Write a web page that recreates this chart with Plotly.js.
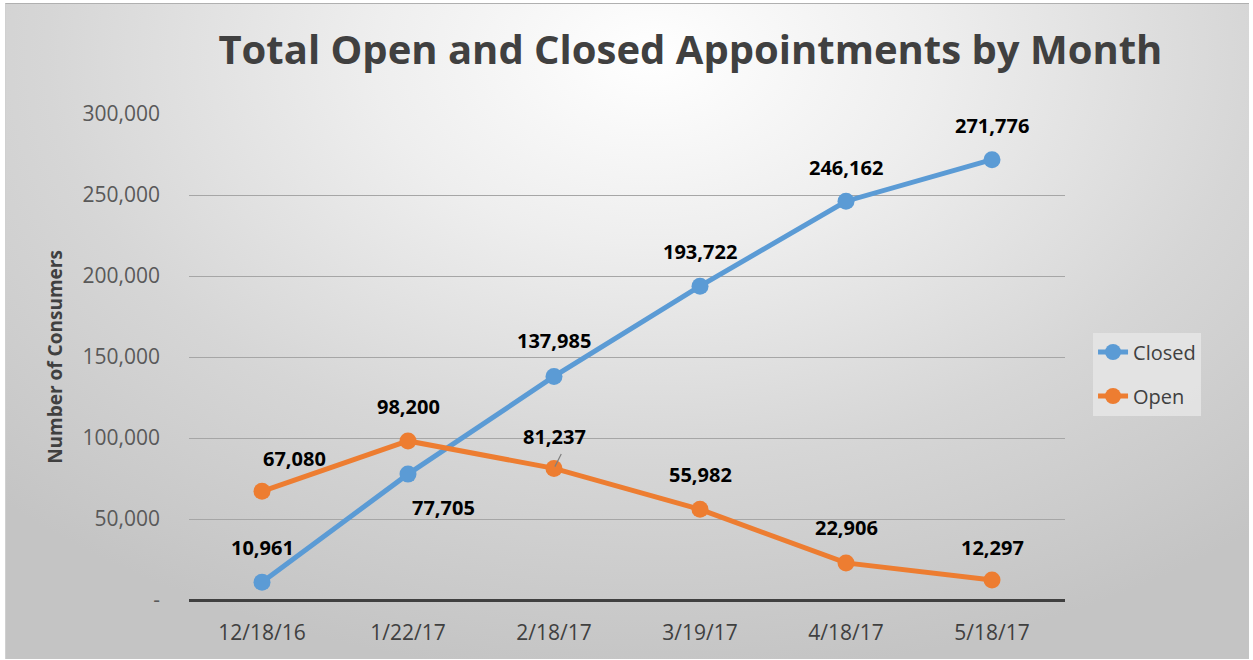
<!DOCTYPE html>
<html>
<head>
<meta charset="utf-8">
<script src="https://cdn.plot.ly/plotly-3.0.1.min.js"></script>
<style>
html,body{margin:0;padding:0;width:1253px;height:660px;overflow:hidden;background:#fff;}
#frame{position:absolute;left:5px;top:3px;width:1243px;height:655px;border-top:1px solid #b0b0b0;border-left:1px solid #d0d0d0;
background:radial-gradient(ellipse 75% 95% at 52% 8%, #ffffff 0%, #eeeeee 30%, #d6d6d6 65%, #c4c4c4 100%);}
#chart{position:absolute;left:0;top:0;width:1253px;height:660px;}
</style>
</head>
<body>
<div id="frame"></div>
<div id="chart"></div>
<script>
const categories = ["12/18/16","1/22/17","2/18/17","3/19/17","4/18/17","5/18/17"];
const closedValues = [10961, 77705, 137985, 193722, 246162, 271776];
const openValues = [67080, 98200, 81237, 55982, 22906, 12297];
const yTickVals = [0, 50000, 100000, 150000, 200000, 250000, 300000];
const yTickText = ["-", "50,000", "100,000", "150,000", "200,000", "250,000", "300,000"];

const fmt = v => v.toLocaleString("en-US");
const FONT = "Open Sans, Noto Sans, sans-serif";

const traces = [
  {x: categories, y: closedValues, name: "Closed", legendgroup: "c", type: "scatter", mode: "lines+markers",
   line: {color: "#5B9BD5", width: 5}, marker: {color: "#5B9BD5", size: 17}},
  {x: categories, y: openValues, name: "Open", legendgroup: "o", type: "scatter", mode: "lines+markers",
   line: {color: "#ED7D31", width: 5}, marker: {color: "#ED7D31", size: 17}}
];

// label offsets (pixels) per point
const closedShift = [[0,35],[35,-33],[0,36],[0,35],[0,34],[0,34]];
const openShift = [[32,33],[0,34],[0,32],[0,35],[0,35],[0,33]];

const annotations = [];
closedValues.forEach((v,i)=>annotations.push({x: categories[i], y: v, text: "<b>"+fmt(v)+"</b>", showarrow:false,
  xshift: closedShift[i][0], yshift: closedShift[i][1], font:{family:FONT, size:20, color:"#000"}}));
openValues.forEach((v,i)=>annotations.push({x: categories[i], y: v, text: "<b>"+fmt(v)+"</b>", showarrow:false,
  xshift: openShift[i][0], yshift: openShift[i][1], font:{family:FONT, size:20, color:"#000"}}));
// leader line for 81,237
annotations.push({x: categories[2], y: openValues[2], text: "", showarrow: true, arrowhead: 0, arrowwidth: 1.2,
  arrowcolor: "#7f7f7f", ax: 8, ay: -16, standoff: 2});

const layout = {
  width: 1253, height: 660,
  paper_bgcolor: "rgba(0,0,0,0)", plot_bgcolor: "rgba(0,0,0,0)",
  margin: {l: 189, r: 188, t: 114, b: 60},
  title: {text: "<b>Total Open and Closed Appointments by Month</b>", x: 0.551, xanchor: "center", y: 0.925, yanchor: "middle",
    font: {family: FONT, size: 40, color: "#404040"}},
  xaxis: {type: "category", range: [-0.5, 5.5], showgrid: false, zeroline: false, showline: false,
    tickfont: {family: FONT, size: 21, color: "#404040"}, ticks: "", ticklen: 0, ticklabelstandoff: 18, fixedrange: true},
  yaxis: {range: [0, 300000], tickvals: yTickVals, ticktext: yTickText, showgrid: true, gridcolor: "#a6a6a6", gridwidth: 1,
    zeroline: true, zerolinecolor: "#404040", zerolinewidth: 3, showline: false, ticks: "", ticklabelstandoff: 28,
    tickfont: {family: FONT, size: 21, color: "#595959"},
    title: {text: "<b>Number of Consumers</b>", font: {family: FONT, size: 19, color: "#404040"}, standoff: 14}},
  legend: {x: 1.032, xanchor: "left", y: 0.465, yanchor: "middle", bgcolor: "rgba(228,228,228,0.9)",
    font: {family: FONT, size: 20, color: "#404040"}, traceorder: "grouped", tracegroupgap: 15},
  annotations: annotations,
  showlegend: true
};

Plotly.newPlot("chart", traces, layout, {displayModeBar: false, staticPlot: true});
</script>
</body>
</html>
